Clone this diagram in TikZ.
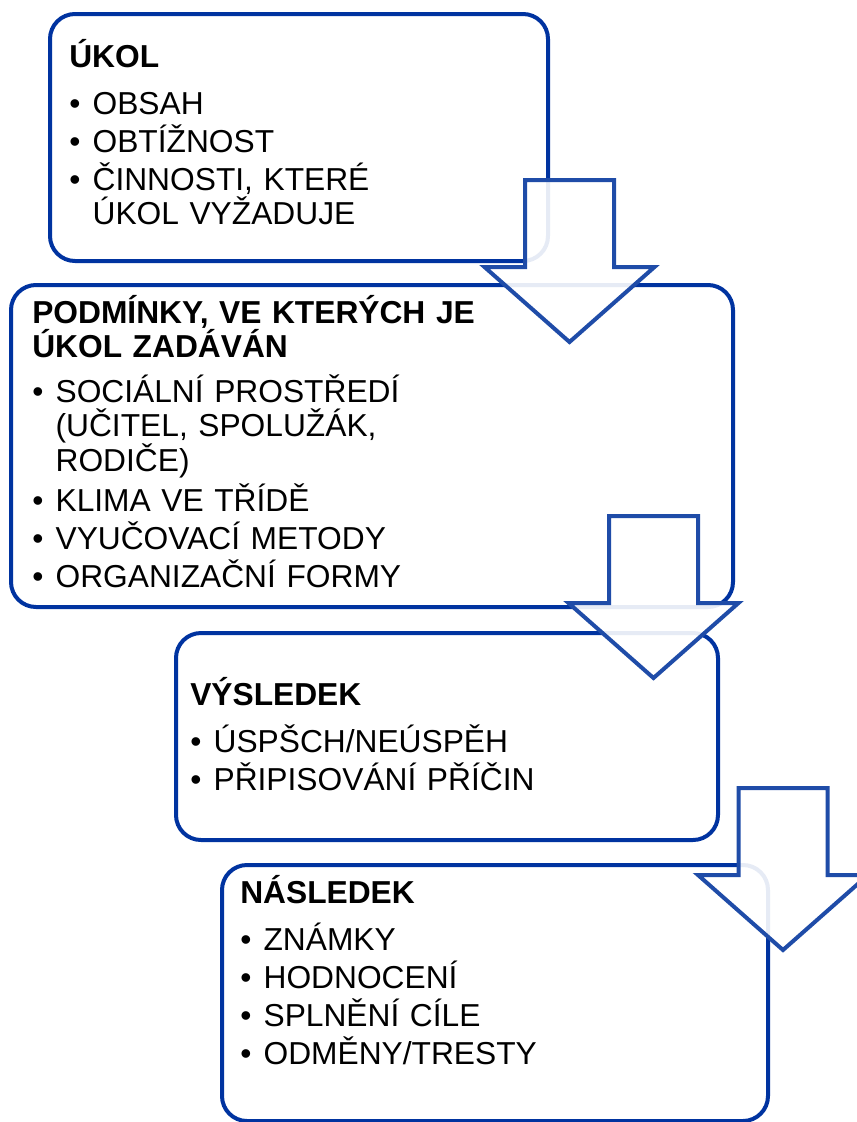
\documentclass[tikz,border=0pt]{standalone}
\usepackage{fontspec}
\setmainfont{Liberation Sans}
\usetikzlibrary{calc}
\definecolor{boxblue}{HTML}{0033A0}
\definecolor{arrowblue}{HTML}{1F4CA8}
\tikzstyle{stage} = [rectangle, rounded corners=18.75pt, draw=boxblue, line width=3pt, fill=white, inner sep=0pt, outer sep=0pt, anchor=north west]
\tikzstyle{stagetext} = [anchor=base west, inner sep=0pt, text width=420pt, align=left]
\tikzstyle{flow} = [draw=arrowblue, line width=3pt, fill=white, fill opacity=0.9, line join=miter]
\newcommand{\polozka}[1]{\par\vspace{3pt}\hangindent=17.5pt\hangafter=1\noindent\makebox[17.5pt][l]{\textbullet}#1}
\setlength{\lineskiplimit}{-100pt}

\begin{document}
\begin{tikzpicture}[x=0.75pt, y=-0.75pt, every node/.style={font=\fontsize{23.8}{25.5}\selectfont}]

    \useasboundingbox (0,0) rectangle (857,1122);

    % Boxy
    \node (ukol) [stage, minimum width=373.5pt, minimum height=185.25pt] at (50,14) {};
    \node (podminky) [stage, minimum width=541.5pt, minimum height=241.5pt] at (11,285) {};
    \node (vysledek) [stage, minimum width=406.5pt, minimum height=155.25pt] at (176,633) {};
    \node (nasledek) [stage, minimum width=409.5pt, minimum height=192pt] at (222,865) {};

    % Texty v boxech
    \node (ukoltext) [stagetext] at ($(ukol.north west)+(19,53)$) {\textbf{ÚKOL}\par\vspace{6.75pt}
        \polozka{OBSAH}
        \polozka{OBTÍŽNOST}
        \polozka{ČINNOSTI, KTERÉ\newline ÚKOL VYŽADUJE}\par};
    \node (podminkytext) [stagetext] at ($(podminky.north west)+(21,38)$) {\textbf{PODMÍNKY, VE KTERÝCH JE\newline ÚKOL ZADÁVÁN}\par\vspace{5.25pt}
        \polozka{SOCIÁLNÍ PROSTŘEDÍ\newline (UČITEL, SPOLUŽÁK,\newline RODIČE)}
        \polozka{KLIMA VE TŘÍDĚ}
        \polozka{VYUČOVACÍ METODY}
        \polozka{ORGANIZAČNÍ FORMY}\par};
    \node (vysledektext) [stagetext] at ($(vysledek.north west)+(14,72)$) {\textbf{VÝSLEDEK}\par\vspace{6.75pt}
        \polozka{ÚSPŠCH/NEÚSPĚH}
        \polozka{PŘIPISOVÁNÍ PŘÍČIN}\par};
    \node (nasledektext) [stagetext] at ($(nasledek.north west)+(18,38)$) {\textbf{NÁSLEDEK}\par\vspace{6.75pt}
        \polozka{ZNÁMKY}
        \polozka{HODNOCENÍ}
        \polozka{SPLNĚNÍ CÍLE}
        \polozka{ODMĚNY/TRESTY}\par};

    % Šipky mezi boxy
    \coordinate (s1) at (569.5,180);
    \coordinate (s2) at (653.5,516);
    \coordinate (s3) at (783,788);
    \draw [flow] (s1) ++(-44.5,0) -- ++(89,0) -- ++(0,87) -- ++(40.5,0) -- ++(-85,75) -- ++(-85,-75) -- ++(40.5,0) -- cycle;
    \draw [flow] (s2) ++(-44.5,0) -- ++(89,0) -- ++(0,87) -- ++(40.5,0) -- ++(-85,75) -- ++(-85,-75) -- ++(40.5,0) -- cycle;
    \draw [flow] (s3) ++(-44.5,0) -- ++(89,0) -- ++(0,87) -- ++(40.5,0) -- ++(-85,75) -- ++(-85,-75) -- ++(40.5,0) -- cycle;

\end{tikzpicture}
\end{document}
